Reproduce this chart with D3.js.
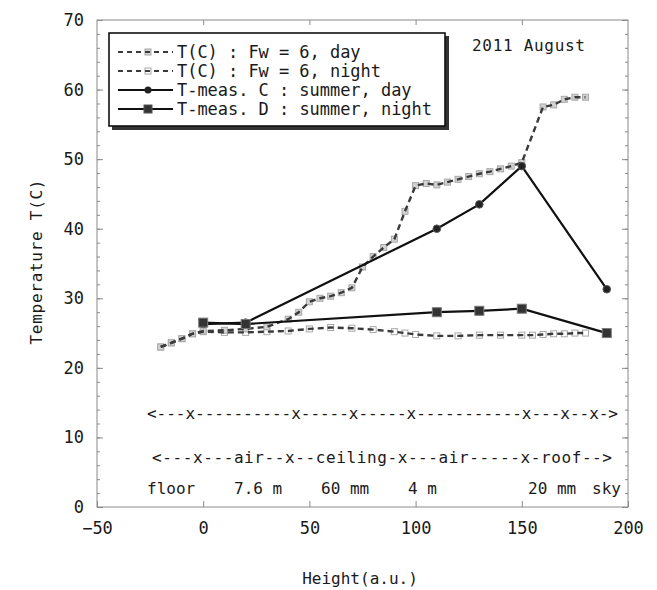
<!DOCTYPE html>
<html>
<head>
<meta charset="utf-8">
<script src="https://cdn.jsdelivr.net/npm/d3@7"></script>
<style>
    body { margin: 0; background: #ffffff; }
    text { font-family: "DejaVu Sans Mono", monospace; fill: #1a1a1a; }
</style>
</head>
<body>
<svg id="chart"></svg>
<script>
(function () {

    const width = 657;
    const height = 590;
    const margin = { top: 20, right: 29, bottom: 83, left: 97 };
    const fontSize = 17;
    const frameColor = "#8a8a8a";
    const solidColor = "#111111";
    const dashColor = "#3a3a3a";

    // measured points, x in a.u.
    const measHeight = [0, 20, 110, 130, 150, 190];
    const measDay = [26.3, 26.5, 40.0, 43.5, 49.0, 31.3];
    const measNight = [26.5, 26.3, 28.0, 28.2, 28.5, 25.0];

    // calculated T(C), Fw = 6
    const calcDayHeight = [-20, -15, -10, -5, 0, 10, 20, 30, 40, 45, 50, 55, 60, 65, 70, 75, 80, 85, 90, 95,
        100, 105, 110, 115, 120, 125, 130, 135, 140, 145, 150, 160, 165, 170, 175, 180];
    const calcDay = [23.0, 23.6, 24.2, 24.9, 25.3, 25.4, 25.6, 25.9, 27.0, 28.0, 29.5, 30.0, 30.3, 30.8, 31.5, 34.5,
        36.0, 37.3, 38.5, 42.5, 46.2, 46.5, 46.3, 46.7, 47.1, 47.5, 47.9, 48.2, 48.6, 49.0, 49.5, 57.5, 57.8, 58.6, 58.9, 58.9];
    const calcNightHeight = [-20, -15, -10, -5, 0, 10, 20, 30, 40, 50, 60, 70, 80, 90, 95, 100, 110, 120, 130,
        140, 150, 155, 160, 165, 170, 175, 180];
    const calcNight = [23.0, 23.6, 24.2, 24.9, 25.2, 25.1, 25.1, 25.2, 25.3, 25.6, 25.8, 25.7, 25.5, 25.2, 25.0,
        24.8, 24.6, 24.6, 24.7, 24.7, 24.7, 24.7, 24.8, 24.9, 24.9, 25.0, 25.0];

    const xTicks = [-50, 0, 50, 100, 150, 200];
    const yTicks = [0, 10, 20, 30, 40, 50, 60, 70];
    const yMinorTicks = d3.range(0, 71, 2);

    const legendLabels = [
        "T(C) : Fw = 6, day",
        "T(C) : Fw = 6, night",
        "T-meas. C : summer, day",
        "T-meas. D : summer, night"
    ];
    const layerRows = [
        "<---x----------x-----x-----x-----------x---x--x->",
        "<---x---air--x--ceiling-x---air-----x-roof-->"
    ];
    const layerWords = ["floor", "7.6 m", "60 mm", "4 m", "20 mm", "sky"];
    const layerWordX = [147, 234, 321, 408, 528, 592];

    const svg = d3.select("#chart")
        .attr("width", width)
        .attr("height", height);

    const x = d3.scaleLinear().domain([-50, 200]).range([margin.left, width - margin.right]);
    const y = d3.scaleLinear().domain([0, 70]).range([height - margin.bottom, margin.top]);

    // frame
    svg.append("rect")
        .attr("x", x(-50))
        .attr("y", y(70))
        .attr("width", x(200) - x(-50))
        .attr("height", y(0) - y(70))
        .attr("fill", "none")
        .attr("stroke", frameColor);

    function styleAxis(g) {
        g.select(".domain").remove();
        g.selectAll(".tick line").attr("stroke", frameColor);
        g.selectAll(".tick text")
            .attr("font-family", "DejaVu Sans Mono")
            .attr("font-size", fontSize)
            .attr("fill", "#1a1a1a");
    }

    svg.append("g")
        .attr("transform", `translate(0,${y(0)})`)
        .call(d3.axisBottom(x).tickValues(xTicks).tickSize(-6).tickPadding(15).tickFormat(d3.format("d")))
        .call(styleAxis);

    svg.append("g")
        .attr("transform", `translate(0,${y(70)})`)
        .call(d3.axisTop(x).tickValues([0, 50, 100, 150]).tickSize(-5).tickFormat(""))
        .call(styleAxis);

    svg.append("g")
        .attr("transform", `translate(${x(-50)},0)`)
        .call(d3.axisLeft(y).tickValues(yTicks).tickSize(-6).tickPadding(13))
        .call(styleAxis);

    svg.append("g")
        .attr("transform", `translate(${x(-50)},0)`)
        .call(d3.axisLeft(y).tickValues(yMinorTicks).tickSize(-3).tickFormat(""))
        .call(styleAxis);

    svg.append("g")
        .attr("transform", `translate(${x(200)},0)`)
        .call(d3.axisRight(y).tickValues(yTicks).tickSize(-6).tickFormat(""))
        .call(styleAxis);

    svg.append("g")
        .attr("transform", `translate(${x(200)},0)`)
        .call(d3.axisRight(y).tickValues(yMinorTicks).tickSize(-3).tickFormat(""))
        .call(styleAxis);

    // axis titles
    svg.append("text")
        .attr("x", 360)
        .attr("y", 584)
        .attr("text-anchor", "middle")
        .attr("font-size", 16)
        .text("Height(a.u.)");

    svg.append("text")
        .attr("transform", "translate(42,262) rotate(-90)")
        .attr("text-anchor", "middle")
        .attr("font-size", 16)
        .attr("textLength", 165)
        .text("Temperature T(C)");

    svg.append("text")
        .attr("x", 472)
        .attr("y", 51)
        .attr("font-size", 16)
        .attr("textLength", 113)
        .text("2011 August");

    // layer annotations
    const rowPos = [
        { x: 147, y: 419, len: 471 },
        { x: 152, y: 463, len: 460 }
    ];
    svg.selectAll("text.layer")
        .data(layerRows)
        .enter()
        .append("text")
        .attr("class", "layer")
        .attr("x", (d, i) => rowPos[i].x)
        .attr("y", (d, i) => rowPos[i].y)
        .attr("font-size", 16)
        .attr("textLength", (d, i) => rowPos[i].len)
        .attr("lengthAdjust", "spacing")
        .text(d => d);

    svg.selectAll("text.layer-word")
        .data(layerWords)
        .enter()
        .append("text")
        .attr("class", "layer-word")
        .attr("x", (d, i) => layerWordX[i])
        .attr("y", 494)
        .attr("font-size", 16)
        .text(d => d);

    const line = d3.line()
        .x(d => x(d[0]))
        .y(d => y(d[1]));

    const calcDayPts = d3.zip(calcDayHeight, calcDay);
    const calcNightPts = d3.zip(calcNightHeight, calcNight);
    const measDayPts = d3.zip(measHeight, measDay);
    const measNightPts = d3.zip(measHeight, measNight);

    // calculated curves: pale square markers under a dark dashed line
    svg.selectAll("rect.calc-night")
        .data(calcNightPts)
        .enter()
        .append("rect")
        .attr("class", "calc-night")
        .attr("x", d => x(d[0]) - 3)
        .attr("y", d => y(d[1]) - 3)
        .attr("width", 6)
        .attr("height", 6)
        .attr("fill", "#ffffff")
        .attr("stroke", "#a8a8a8")
        .attr("stroke-width", 1);

    svg.selectAll("rect.calc-day")
        .data(calcDayPts)
        .enter()
        .append("rect")
        .attr("class", "calc-day")
        .attr("x", d => x(d[0]) - 3)
        .attr("y", d => y(d[1]) - 3)
        .attr("width", 6)
        .attr("height", 6)
        .attr("fill", "#d2d2d2")
        .attr("stroke", "#a8a8a8")
        .attr("stroke-width", 1);

    [calcNightPts, calcDayPts].forEach(pts => {
        svg.append("path")
            .datum(pts)
            .attr("d", line)
            .attr("fill", "none")
            .attr("stroke", dashColor)
            .attr("stroke-width", 2.4)
            .attr("stroke-dasharray", "6,4");
    });

    // measured curves (solid)
    [measDayPts, measNightPts].forEach(pts => {
        svg.append("path")
            .datum(pts)
            .attr("d", line)
            .attr("fill", "none")
            .attr("stroke", solidColor)
            .attr("stroke-width", 2.2);
    });

    svg.selectAll("circle.meas-day")
        .data(measDayPts)
        .enter()
        .append("circle")
        .attr("class", "meas-day")
        .attr("cx", d => x(d[0]))
        .attr("cy", d => y(d[1]))
        .attr("r", 3.8)
        .attr("fill", "#222222")
        .attr("stroke", "#555555");

    svg.selectAll("rect.meas-night")
        .data(measNightPts)
        .enter()
        .append("rect")
        .attr("class", "meas-night")
        .attr("x", d => x(d[0]) - 4.5)
        .attr("y", d => y(d[1]) - 4.5)
        .attr("width", 9)
        .attr("height", 9)
        .attr("fill", "#333333")
        .attr("stroke", "#777777");

    // legend
    const legend = svg.append("g");
    legend.append("rect")
        .attr("x", 112)
        .attr("y", 36)
        .attr("width", 337)
        .attr("height", 94)
        .attr("fill", "#333333");
    legend.append("rect")
        .attr("x", 109)
        .attr("y", 33)
        .attr("width", 336)
        .attr("height", 93)
        .attr("fill", "#ffffff")
        .attr("stroke", "#111111")
        .attr("stroke-width", 1.6);

    const rowY = [52, 71, 90, 109];
    legendLabels.forEach((label, i) => {
        const row = legend.append("g").attr("transform", `translate(0,${rowY[i]})`);
        if (i < 2) {
            row.append("rect")
                .attr("x", 145)
                .attr("y", -3)
                .attr("width", 6)
                .attr("height", 6)
                .attr("fill", i === 0 ? "#d2d2d2" : "#ffffff")
                .attr("stroke", "#a8a8a8");
        }
        row.append("line")
            .attr("x1", 118)
            .attr("x2", 173)
            .attr("stroke", i < 2 ? dashColor : solidColor)
            .attr("stroke-width", 2.2)
            .attr("stroke-dasharray", i < 2 ? "5,4" : null);
        if (i === 2) {
            row.append("circle").attr("cx", 148).attr("r", 3.5).attr("fill", "#222222");
        } else if (i === 3) {
            row.append("rect")
                .attr("x", 144)
                .attr("y", -4)
                .attr("width", 8)
                .attr("height", 8)
                .attr("fill", "#333333")
                .attr("stroke", "#555555");
        }
        row.append("text")
            .attr("x", 177)
            .attr("y", 6)
            .attr("font-size", fontSize)
            .attr("textLength", label.length * 10.2)
            .text(label);
    });

})();
</script>
</body>
</html>
